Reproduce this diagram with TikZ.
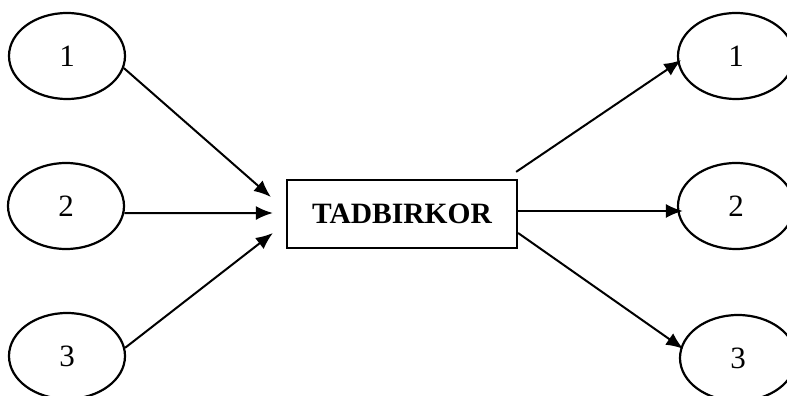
\documentclass[tikz,border=0pt]{standalone}
\usepackage{fontspec}
\setmainfont{Liberation Serif}
\usetikzlibrary{arrows.meta,shapes.geometric}
\begin{document}
\begin{tikzpicture}[x=1pt,y=1pt,
  oval/.style={draw,line width=2.2pt,ellipse,minimum width=116pt,minimum height=86pt,inner sep=0pt,font=\fontsize{31}{34}\selectfont},
  mainbox/.style={draw,line width=2.2pt,rectangle,minimum width=230pt,minimum height=68pt,inner sep=0pt,font=\fontsize{29.5}{32}\selectfont\bfseries},
  conn/.style={line width=2pt,-{Latex[length=17pt,width=14pt]}}]
\useasboundingbox (0,0) rectangle (787,396);
% left ellipses
\node[oval] (l1) at (67,340) {1};
\node[oval] (l2) at (66,190) {2};
\node[oval] (l3) at (67,40) {3};
% right ellipses
\node[oval] (r1) at (736,340) {1};
\node[oval] (r2) at (736,190) {2};
\node[oval] (r3) at (738,38) {3};
% central box
\node[mainbox] (b) at (402,182) {TADBIRKOR};
% arrow end/start points
\coordinate (in1) at ([shift={(-15pt,17pt)}]b.west);
\coordinate (in2) at ([shift={(-13pt,1pt)}]b.west);
\coordinate (in3) at ([shift={(-13pt,-19pt)}]b.west);
\coordinate (out1) at ([shift={(-2pt,7pt)}]b.north east);
\coordinate (out2) at ([shift={(0pt,3pt)}]b.east);
\coordinate (out3) at ([shift={(0pt,-19pt)}]b.east);
\coordinate (e2) at ([xshift=6pt]r2.west |- out2);
% connectors
\draw[conn] (l1.-12) -- (in1);
\draw[conn] (l2.-7) -- (in2);
\draw[conn] (l3.8) -- (in3);
\draw[conn] (out1) -- ([xshift=4pt]r1.184);
\draw[conn] (out2) -- (e2);
\draw[conn] (out3) -- ([xshift=3pt]r3.171);
\end{tikzpicture}
\end{document}
